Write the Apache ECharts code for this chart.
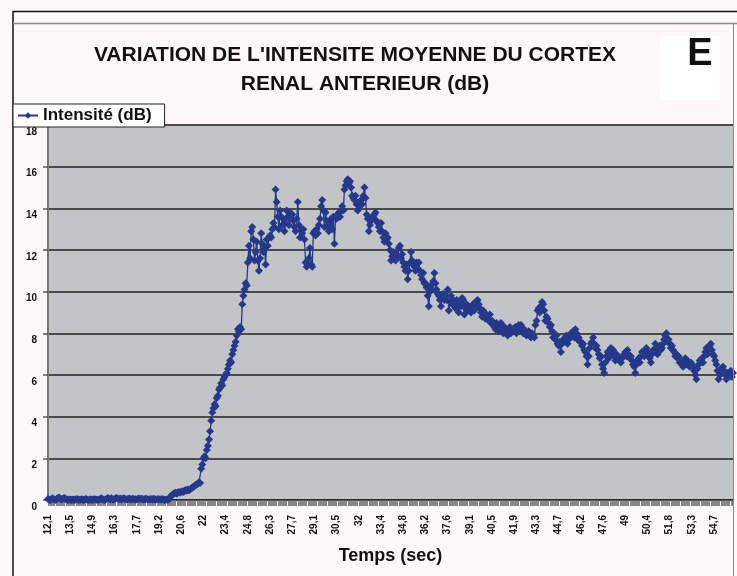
<!DOCTYPE html>
<html>
<head>
<meta charset="utf-8">
<script src="https://cdn.jsdelivr.net/npm/echarts@6/dist/echarts.min.js"></script>
<style>
  html, body { margin: 0; padding: 0; background: #fcf8f9; }
  #chart { width: 737px; height: 576px; }
</style>
</head>
<body>
<div id="chart"></div>
<script>
// Mean intensity of the anterior renal cortex (dB), one value per frame.
// Baseline before contrast arrival
const baseline = [
  0.05,0.02,0,0.03,0.08,0.04,0.02,0,0.05,0.1,0.12,0.06,0.03,0.05,0.08,0.1,0.04,0.02,0,0.03,
  0.02,0,0.01,0.03,0,0.02,0.05,0.03,0,0.01,0.04,0.02,0,0.03,0.05,0.02,0.01,0,0.03,0.02,
  0,0.02,0.04,0.03,0.01,0,0.02,0.05,0.08,0.04,0.02,0,0.03,0.06,0.1,0.05,0.03,0.08,0.04,0.02,
  0.05,0.08,0.1,0.06,0.04,0.07,0.03,0.05,0.09,0.06,0.04,0.02,0.05,0.07,0.04,0.03,0.06,0.05,0.02,0.04,
  0.03,0.05,0.07,0.04,0.06,0.05,0.03,0.04,0.06,0.05,0.03,0.02,0.04,0.05,0.03,0.06,0.04,0.02,0.03,0.05,
  0.04,0.02,0.03,0.05,0.02,0,0.01,0.02,0,0.05
];
// Wash-in
const washIn = [
  0.12,0.2,0.25,0.3,0.32,0.35,0.3,0.36,0.38,0.35,
  0.4,0.42,0.38,0.45,0.48,0.44,0.5,0.47,0.52,0.55,0.6,0.62,0.68,0.72,0.75,0.78,0.85,0.82,1.5,1.7,
  2.0,2.1,2.0,2.4,2.6,2.9,3.3,3.8,4.2,4.4,4.6,4.5,4.9,5.0,5.3,5.4,5.6,5.5,5.8,5.9,
  6.0,6.1,6.3,6.5,6.7,6.6,7.0,7.2,7.4,7.6,7.9,8.2,8.1,8.3,8.2,9.4,9.8,10.1,10.4,10.3
];
// Peak plateau
const plateau = [
  11.4,12.2,11.6,12.9,13.1,12.5,11.5,11.9,12.4,11.5,11.0,11.6,12.8,12.3,11.9,12.1,11.3,12.5,12.2,12.6,
  12.7,12.6,13.0,13.3,13.1,14.9,14.3,13.6,13.0,13.9,13.6,13.2,13.5,12.9,13.3,13.9,13.6,13.2,13.8,13.5,
  13.7,13.4,13.1,12.9,13.5,14.3,13.2,12.6,13.0,12.8,13.0,12.5,11.4,11.2,11.3,11.6,12.1,11.3,11.2,12.8,
  12.9,12.7,13.0,12.8,13.2,13.5,14.1,14.4,13.9,13.1,13.8,13.4,13.1,12.9,13.3,13.5,13.0,13.6,12.3,13.6,
  13.5,13.7,13.8,13.6,13.9,14.1,13.9,14.9,15.1,15.3,15.4,15.2,15.3,15.0,14.6,14.5,14.4,14.6,14.2,13.9,
  14.1,14.3,14.4,14.2,14.6,15.0,14.5,13.7,13.5,12.9,13.2,13.4,13.6,13.5,13.7,13.8,13.4,13.3,13.1,12.9
];
// Wash-out
const washOut = [
  13.3,12.9,12.6,12.4,12.8,12.5,12.6,12.3,12.0,11.5,11.7,11.9,11.6,11.5,11.8,11.7,12.1,12.2,11.6,11.8,
  11.4,11.2,11.0,11.3,10.6,11.0,11.4,11.9,11.5,11.3,11.2,11.0,11.4,11.1,11.4,11.0,10.8,10.6,10.9,10.4,
  10.4,10.2,9.8,9.3,10.0,10.3,10.1,10.5,10.9,10.4,10.1,9.9,9.8,9.6,9.3,9.7,9.9,9.6,9.8,9.6,
  10.1,9.1,9.5,9.8,9.4,9.6,9.5,9.2,9.6,9.3,9.0,9.4,9.3,9.7,9.6,8.9,9.2,9.4,9.1,9.3,
  9.2,9.0,9.3,9.4,9.1,9.5,9.3,9.6,9.4,9.2,9.0,8.8,9.1,8.9,8.7,8.9,8.7,8.6,8.9,8.5,
  8.6,8.4,8.3,8.2,8.5,8.3,8.1,8.4,8.5,8.2,8.0,8.3,8.2,8.0,7.9,8.1,8.3,8.0,8.2,8.2,
  8.1,8.3,8.0,8.2,8.4,8.3,8.4,8.1,8.0,8.2,8.1,7.9,8.0,8.1,7.9,7.8,8.0,7.9,7.8,8.4,
  8.6,9.1,9.2,9.0,9.3,9.5,9.4,9.1,8.6,8.8,8.7,8.5,8.3,8.4,8.1,7.8,8.0,7.7,7.9,7.5,
  7.4,7.6,7.1,7.5,7.7,7.6,7.8,7.9,7.5,7.7,7.8,8.0,7.9,8.1,7.8,8.2,8.0,7.7,7.8,7.6,
  7.6,7.4,7.5,7.2,7.1,6.9,6.5,6.9,7.3,7.5,7.6,7.8,7.5,7.3,7.4,7.2,7.0,6.8,6.9,6.5,
  6.3,6.1,6.6,6.9,7.1,6.8,7.0,7.3,7.0,7.2,6.9,6.7,7.0,6.9,6.8,6.7,6.6,6.8,6.9,7.0,
  7.1,6.9,7.2,7.0,6.8,6.9,6.7,6.5,6.4,6.1,6.5,6.7,6.8,6.6,6.9,7.1,7.0,6.9,7.2,7.3,
  7.1,7.0,6.8,6.6,7.0,7.2,7.1,7.5,7.3,7.0,7.2,7.4,7.2,7.3,7.5,7.7,7.9,8.0,7.6,7.7,
  7.5,7.3,7.4,7.2,7.1,6.9,7.0,6.8,6.9,6.6,6.7,6.5,6.4,6.6,6.8,6.5,6.7,6.6,6.4,6.6,
  6.5,6.4,6.2,6.0,5.8,6.3,6.5,6.7,6.6,6.8,6.6,6.9,7.1,7.3,7.0,7.2,7.4,7.5,7.2,7.0,
  6.9,6.7,6.5,6.2,5.8,6.0,6.3,6.1,6.4,6.2,6.0,5.8,6.1,5.9,6.0,6.2,5.9,6.1
];

// Time labels (sec), one every 20 frames
const timeLabels = ['12,1','13,5','14,9','16,3','17,7','19,2','20,6','22','23,4','24,8',
  '26,3','27,7','29,1','30,5','32','33,4','34,8','36,2','37,6','39,1','40,5','41,9',
  '43,3','44,7','46,2','47,6','49','50,4','51,8','53,3','54,7'];
const yTicks = [0, 2, 4, 6, 8, 10, 12, 14, 16, 18];

const intensity = baseline.concat(washIn, plateau, washOut);
const frames = intensity.map((_, i) => i);
const LABEL_STEP = 20;

const FONT = "'Liberation Sans', Arial, sans-serif";
const BLUE = '#25398b';

const chart = echarts.init(document.getElementById('chart'), null, { renderer: 'canvas' });

chart.setOption({
  backgroundColor: '#fcf8f9',
  animation: false,
  grid: {
    left: 48, right: 4, top: 125, bottom: 76,
    show: true, backgroundColor: '#c3c4c6', borderWidth: 0
  },
  legend: {
    data: ['Intensité (dB)'],
    left: 13, top: 104,
    padding: [3, 13, 3, 4],
    itemWidth: 20, itemHeight: 8, itemGap: 3,
    backgroundColor: '#ffffff',
    borderColor: '#222', borderWidth: 1,
    textStyle: { fontFamily: FONT, fontWeight: 'bold', fontSize: 17, color: '#111' }
  },
  xAxis: {
    type: 'category',
    data: frames,
    boundaryGap: false,
    axisLine: { lineStyle: { color: '#222', width: 1.5 } },
    axisTick: { interval: 0, length: 6, lineStyle: { color: '#6a6a6a', width: 0.8 } },
    axisLabel: {
      interval: LABEL_STEP - 1,
      rotate: 90,
      margin: 15,
      fontFamily: FONT, fontWeight: 'bold', fontSize: 10, color: '#111',
      formatter: (v, i) => timeLabels[i / LABEL_STEP] || ''
    },
    splitLine: { show: false },
    name: 'Temps (sec)',
    nameLocation: 'middle',
    nameGap: 47,
    nameTextStyle: { fontFamily: FONT, fontWeight: 'bold', fontSize: 18, color: '#111' }
  },
  yAxis: {
    type: 'value',
    min: yTicks[0], max: yTicks[yTicks.length - 1], interval: 2,
    axisLine: { show: true, lineStyle: { color: '#7a7a7a', width: 2 } },
    axisTick: { show: true, length: 5, lineStyle: { color: '#555', width: 1.5 } },
    axisLabel: {
      margin: 11, verticalAlign: 'top', padding: [2, 0, 0, 0],
      fontFamily: FONT, fontWeight: 'bold', fontSize: 10, color: '#111'
    },
    splitLine: { lineStyle: { color: '#4a4a4a', width: 2 } }
  },
  series: [{
    name: 'Intensité (dB)',
    type: 'line',
    data: intensity,
    symbol: 'diamond',
    symbolSize: 8,
    showAllSymbol: true,
    lineStyle: { color: BLUE, width: 1.3 },
    itemStyle: { color: BLUE },
    z: 3
  }],
  graphic: [
    { type: 'polyline', shape: { points: [[13, 576], [13, 11.5], [737, 11.5]] },
      style: { stroke: '#111', lineWidth: 1.5, fill: null }, silent: true },
    { type: 'line', shape: { x1: 13, y1: 23.5, x2: 737, y2: 23.5 },
      style: { stroke: '#8a8a8a', lineWidth: 1.5 }, silent: true },
    { type: 'line', shape: { x1: 733.5, y1: 23.5, x2: 733.5, y2: 576 },
      style: { stroke: '#8a8a8a', lineWidth: 1 }, silent: true, z: 10 },
    { type: 'rect', shape: { x: 660, y: 36, width: 60, height: 64 },
      style: { fill: '#fffefe' }, silent: true },
    { type: 'text', x: 700, y: 55,
      style: { text: 'E', font: "bold 38px 'Liberation Sans', Arial, sans-serif",
               fill: '#111', textAlign: 'center', textVerticalAlign: 'middle' } },
    { type: 'text', x: 355, y: 55,
      style: { text: "VARIATION DE L'INTENSITE MOYENNE DU CORTEX",
               font: "bold 21px 'Liberation Sans', Arial, sans-serif",
               fill: '#111', textAlign: 'center', textVerticalAlign: 'middle' } },
    { type: 'text', x: 365, y: 84,
      style: { text: 'RENAL ANTERIEUR (dB)',
               font: "bold 21px 'Liberation Sans', Arial, sans-serif",
               fill: '#111', textAlign: 'center', textVerticalAlign: 'middle' } }
  ]
});
</script>
</body>
</html>
